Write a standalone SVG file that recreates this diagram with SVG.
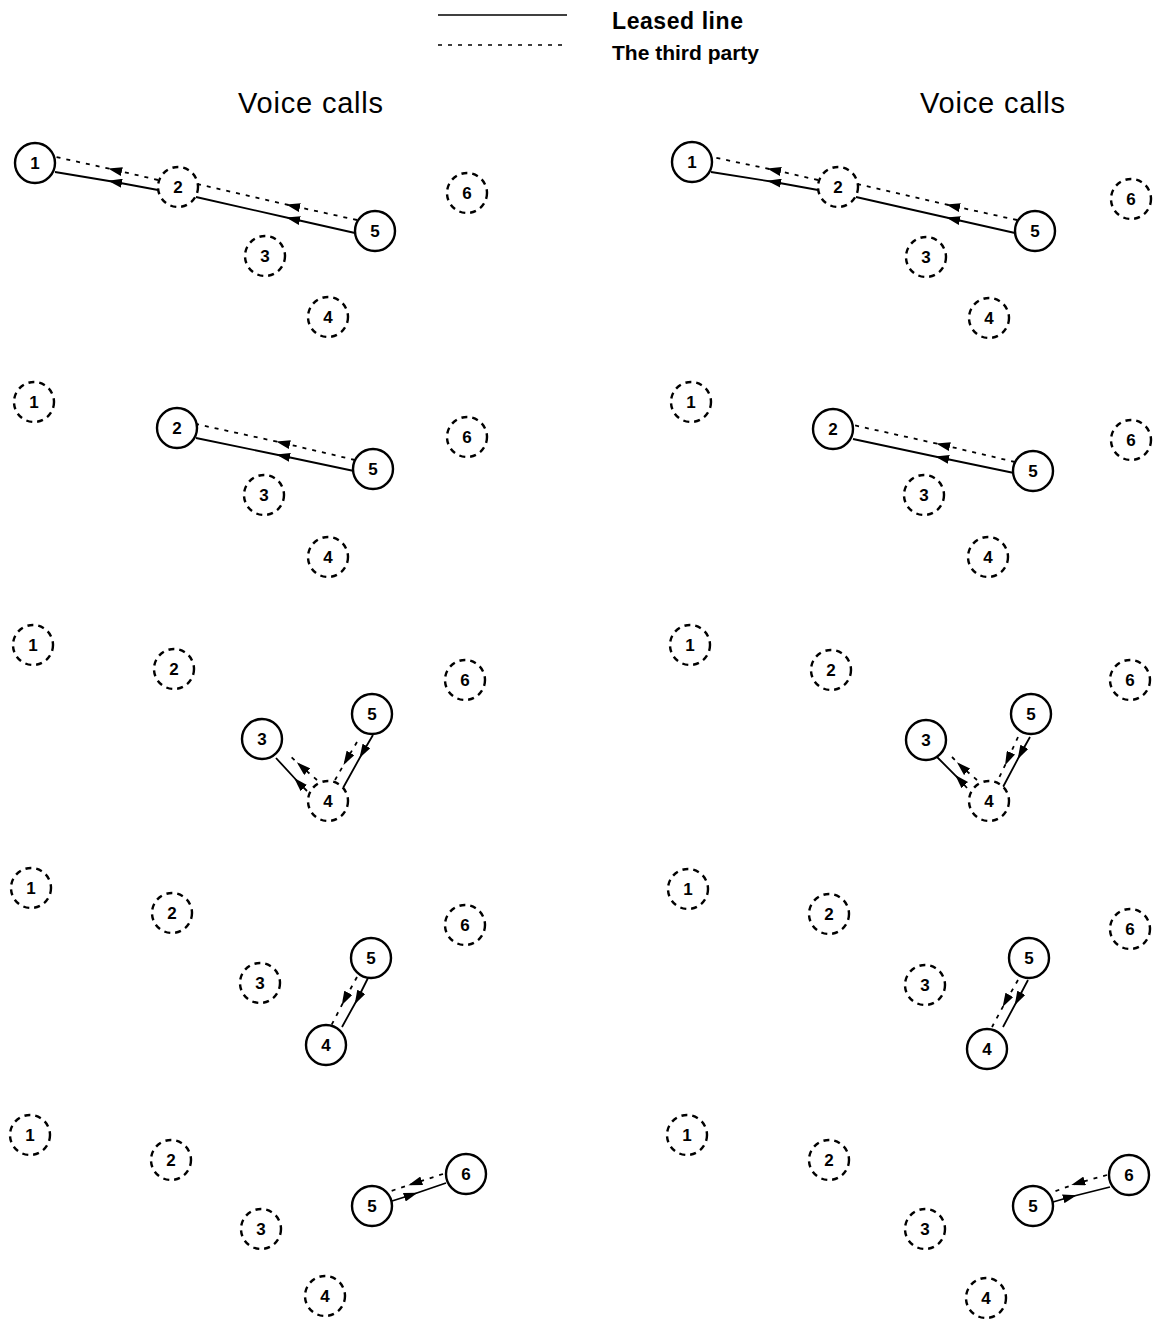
<svg xmlns="http://www.w3.org/2000/svg" width="1156" height="1321" viewBox="0 0 1156 1321">
  <style>
    .bg { fill: #ffffff; }
    .node circle { fill: #ffffff; stroke: #000; stroke-width: 2.4; }
    .node.off circle { stroke-dasharray: 6 5; }
    .node text { font-family: "Liberation Sans", Arial, sans-serif; font-weight: bold; font-size: 17px; text-anchor: middle; dominant-baseline: central; fill: #000; }
    .lease { fill: none; stroke: #000; stroke-width: 1.8; marker-mid: url(#ah); }
    .third { fill: none; stroke: #000; stroke-width: 1.8; stroke-dasharray: 4 6; marker-mid: url(#ah); }
    .title { font-family: "Liberation Sans", Arial, sans-serif; font-size: 29px; letter-spacing: 0.8px; text-anchor: middle; fill: #000; }
    .legend { font-family: "Liberation Sans", Arial, sans-serif; font-weight: bold; font-size: 21px; fill: #000; }
    .legend.big { font-size: 23px; }
  </style>
  <defs>
    <marker id="ah" viewBox="0 0 14 9" refX="7" refY="4.5" markerWidth="14" markerHeight="9" markerUnits="userSpaceOnUse" orient="auto">
      <path d="M0,0 L14,4.5 L0,9 z" fill="#000"/>
    </marker>
  </defs>
  <rect class="bg" x="0" y="0" width="1156" height="1321"/>

  <!-- legend -->
  <g id="legend">
    <line x1="438" y1="15" x2="567" y2="15" stroke="#000" stroke-width="1.5"/>
    <line x1="438" y1="45" x2="567" y2="45" stroke="#000" stroke-width="1.5" stroke-dasharray="4 6"/>
    <text class="legend big" x="612" y="29" textLength="131" lengthAdjust="spacing">Leased line</text>
    <text class="legend" x="612" y="60">The third party</text>
  </g>

  <text class="title" x="311" y="113">Voice calls</text>
  <text class="title" x="993" y="113">Voice calls</text>

  <!-- connectors -->
  <g id="connectors">
    <!-- left, row 1 -->
    <path class="third" d="M158,180 L115,170 L56,157"/>
    <path class="lease" d="M158,190 L115,182 L55,172"/>
    <path class="third" d="M357,220 L293,206 L197,184"/>
    <path class="lease" d="M355,233 L293,219 L196,197"/>
    <!-- left, row 2 -->
    <path class="third" d="M355,460 L283,443 L196,424"/>
    <path class="lease" d="M354,471 L283,456 L196,438"/>
    <!-- left, row 3 -->
    <path class="lease" d="M307,791 L299,783 L276,758"/>
    <path class="third" d="M317,780 L302,767 L288,754"/>
    <path class="lease" d="M373,735 L363,752 L343,788"/>
    <path class="third" d="M357,742 L347,759 L335,780"/>
    <!-- left, row 4 -->
    <path class="lease" d="M368,978 L358,998 L342,1027"/>
    <path class="third" d="M357,977 L345,999 L331,1026"/>
    <!-- left, row 5 -->
    <path class="lease" d="M392,1201 L411,1195 L446,1183"/>
    <path class="third" d="M443,1174 L415,1183 L391,1191"/>

    <!-- right, row 1 -->
    <path class="third" d="M818,180 L774,170 L712,157"/>
    <path class="lease" d="M818,190 L774,182 L711,172"/>
    <path class="third" d="M1017,220 L953,206 L857,184"/>
    <path class="lease" d="M1015,233 L953,219 L856,197"/>
    <!-- right, row 2 -->
    <path class="third" d="M1015,462 L943,445 L853,425"/>
    <path class="lease" d="M1014,473 L942,458 L853,439"/>
    <!-- right, row 3 -->
    <path class="lease" d="M967,788 L960,780 L937,757"/>
    <path class="third" d="M977,780 L962,767 L950,755"/>
    <path class="lease" d="M1030,737 L1021,753 L1003,787"/>
    <path class="third" d="M1018,737 L1008,759 L998,780"/>
    <!-- right, row 4 -->
    <path class="lease" d="M1028,980 L1018,999 L1003,1027"/>
    <path class="third" d="M1018,980 L1006,1001 L992,1027"/>
    <!-- right, row 5 -->
    <path class="lease" d="M1053,1202 L1070,1197 L1110,1187"/>
    <path class="third" d="M1107,1175 L1078,1183 L1053,1192"/>
  </g>

  <!-- left column, row 1 -->
  <g id="L1n1" class="node"><circle cx="35" cy="163" r="20"/><text x="35" y="163">1</text></g>
  <g id="L1n2" class="node off"><circle cx="178" cy="187" r="20"/><text x="178" y="187">2</text></g>
  <g id="L1n3" class="node off"><circle cx="265" cy="256" r="20"/><text x="265" y="256">3</text></g>
  <g id="L1n4" class="node off"><circle cx="328" cy="317" r="20"/><text x="328" y="317">4</text></g>
  <g id="L1n5" class="node"><circle cx="375" cy="231" r="20"/><text x="375" y="231">5</text></g>
  <g id="L1n6" class="node off"><circle cx="467" cy="193" r="20"/><text x="467" y="193">6</text></g>

  <!-- left column, row 2 -->
  <g id="L2n1" class="node off"><circle cx="34" cy="402" r="20"/><text x="34" y="402">1</text></g>
  <g id="L2n2" class="node"><circle cx="177" cy="428" r="20"/><text x="177" y="428">2</text></g>
  <g id="L2n3" class="node off"><circle cx="264" cy="495" r="20"/><text x="264" y="495">3</text></g>
  <g id="L2n4" class="node off"><circle cx="328" cy="557" r="20"/><text x="328" y="557">4</text></g>
  <g id="L2n5" class="node"><circle cx="373" cy="469" r="20"/><text x="373" y="469">5</text></g>
  <g id="L2n6" class="node off"><circle cx="467" cy="437" r="20"/><text x="467" y="437">6</text></g>

  <!-- left column, row 3 -->
  <g id="L3n1" class="node off"><circle cx="33" cy="645" r="20"/><text x="33" y="645">1</text></g>
  <g id="L3n2" class="node off"><circle cx="174" cy="669" r="20"/><text x="174" y="669">2</text></g>
  <g id="L3n3" class="node"><circle cx="262" cy="739" r="20"/><text x="262" y="739">3</text></g>
  <g id="L3n4" class="node off"><circle cx="328" cy="801" r="20"/><text x="328" y="801">4</text></g>
  <g id="L3n5" class="node"><circle cx="372" cy="714" r="20"/><text x="372" y="714">5</text></g>
  <g id="L3n6" class="node off"><circle cx="465" cy="680" r="20"/><text x="465" y="680">6</text></g>

  <!-- left column, row 4 -->
  <g id="L4n1" class="node off"><circle cx="31" cy="888" r="20"/><text x="31" y="888">1</text></g>
  <g id="L4n2" class="node off"><circle cx="172" cy="913" r="20"/><text x="172" y="913">2</text></g>
  <g id="L4n3" class="node off"><circle cx="260" cy="983" r="20"/><text x="260" y="983">3</text></g>
  <g id="L4n4" class="node"><circle cx="326" cy="1045" r="20"/><text x="326" y="1045">4</text></g>
  <g id="L4n5" class="node"><circle cx="371" cy="958" r="20"/><text x="371" y="958">5</text></g>
  <g id="L4n6" class="node off"><circle cx="465" cy="925" r="20"/><text x="465" y="925">6</text></g>

  <!-- left column, row 5 -->
  <g id="L5n1" class="node off"><circle cx="30" cy="1135" r="20"/><text x="30" y="1135">1</text></g>
  <g id="L5n2" class="node off"><circle cx="171" cy="1160" r="20"/><text x="171" y="1160">2</text></g>
  <g id="L5n3" class="node off"><circle cx="261" cy="1229" r="20"/><text x="261" y="1229">3</text></g>
  <g id="L5n4" class="node off"><circle cx="325" cy="1296" r="20"/><text x="325" y="1296">4</text></g>
  <g id="L5n5" class="node"><circle cx="372" cy="1206" r="20"/><text x="372" y="1206">5</text></g>
  <g id="L5n6" class="node"><circle cx="466" cy="1174" r="20"/><text x="466" y="1174">6</text></g>

  <!-- right column, row 1 -->
  <g id="R1n1" class="node"><circle cx="692" cy="162" r="20"/><text x="692" y="162">1</text></g>
  <g id="R1n2" class="node off"><circle cx="838" cy="187" r="20"/><text x="838" y="187">2</text></g>
  <g id="R1n3" class="node off"><circle cx="926" cy="257" r="20"/><text x="926" y="257">3</text></g>
  <g id="R1n4" class="node off"><circle cx="989" cy="318" r="20"/><text x="989" y="318">4</text></g>
  <g id="R1n5" class="node"><circle cx="1035" cy="231" r="20"/><text x="1035" y="231">5</text></g>
  <g id="R1n6" class="node off"><circle cx="1131" cy="199" r="20"/><text x="1131" y="199">6</text></g>

  <!-- right column, row 2 -->
  <g id="R2n1" class="node off"><circle cx="691" cy="402" r="20"/><text x="691" y="402">1</text></g>
  <g id="R2n2" class="node"><circle cx="833" cy="429" r="20"/><text x="833" y="429">2</text></g>
  <g id="R2n3" class="node off"><circle cx="924" cy="495" r="20"/><text x="924" y="495">3</text></g>
  <g id="R2n4" class="node off"><circle cx="988" cy="557" r="20"/><text x="988" y="557">4</text></g>
  <g id="R2n5" class="node"><circle cx="1033" cy="471" r="20"/><text x="1033" y="471">5</text></g>
  <g id="R2n6" class="node off"><circle cx="1131" cy="440" r="20"/><text x="1131" y="440">6</text></g>

  <!-- right column, row 3 -->
  <g id="R3n1" class="node off"><circle cx="690" cy="645" r="20"/><text x="690" y="645">1</text></g>
  <g id="R3n2" class="node off"><circle cx="831" cy="670" r="20"/><text x="831" y="670">2</text></g>
  <g id="R3n3" class="node"><circle cx="926" cy="740" r="20"/><text x="926" y="740">3</text></g>
  <g id="R3n4" class="node off"><circle cx="989" cy="801" r="20"/><text x="989" y="801">4</text></g>
  <g id="R3n5" class="node"><circle cx="1031" cy="714" r="20"/><text x="1031" y="714">5</text></g>
  <g id="R3n6" class="node off"><circle cx="1130" cy="680" r="20"/><text x="1130" y="680">6</text></g>

  <!-- right column, row 4 -->
  <g id="R4n1" class="node off"><circle cx="688" cy="889" r="20"/><text x="688" y="889">1</text></g>
  <g id="R4n2" class="node off"><circle cx="829" cy="914" r="20"/><text x="829" y="914">2</text></g>
  <g id="R4n3" class="node off"><circle cx="925" cy="985" r="20"/><text x="925" y="985">3</text></g>
  <g id="R4n4" class="node"><circle cx="987" cy="1049" r="20"/><text x="987" y="1049">4</text></g>
  <g id="R4n5" class="node"><circle cx="1029" cy="958" r="20"/><text x="1029" y="958">5</text></g>
  <g id="R4n6" class="node off"><circle cx="1130" cy="929" r="20"/><text x="1130" y="929">6</text></g>

  <!-- right column, row 5 -->
  <g id="R5n1" class="node off"><circle cx="687" cy="1135" r="20"/><text x="687" y="1135">1</text></g>
  <g id="R5n2" class="node off"><circle cx="829" cy="1160" r="20"/><text x="829" y="1160">2</text></g>
  <g id="R5n3" class="node off"><circle cx="925" cy="1229" r="20"/><text x="925" y="1229">3</text></g>
  <g id="R5n4" class="node off"><circle cx="986" cy="1298" r="20"/><text x="986" y="1298">4</text></g>
  <g id="R5n5" class="node"><circle cx="1033" cy="1206" r="20"/><text x="1033" y="1206">5</text></g>
  <g id="R5n6" class="node"><circle cx="1129" cy="1175" r="20"/><text x="1129" y="1175">6</text></g>
</svg>
